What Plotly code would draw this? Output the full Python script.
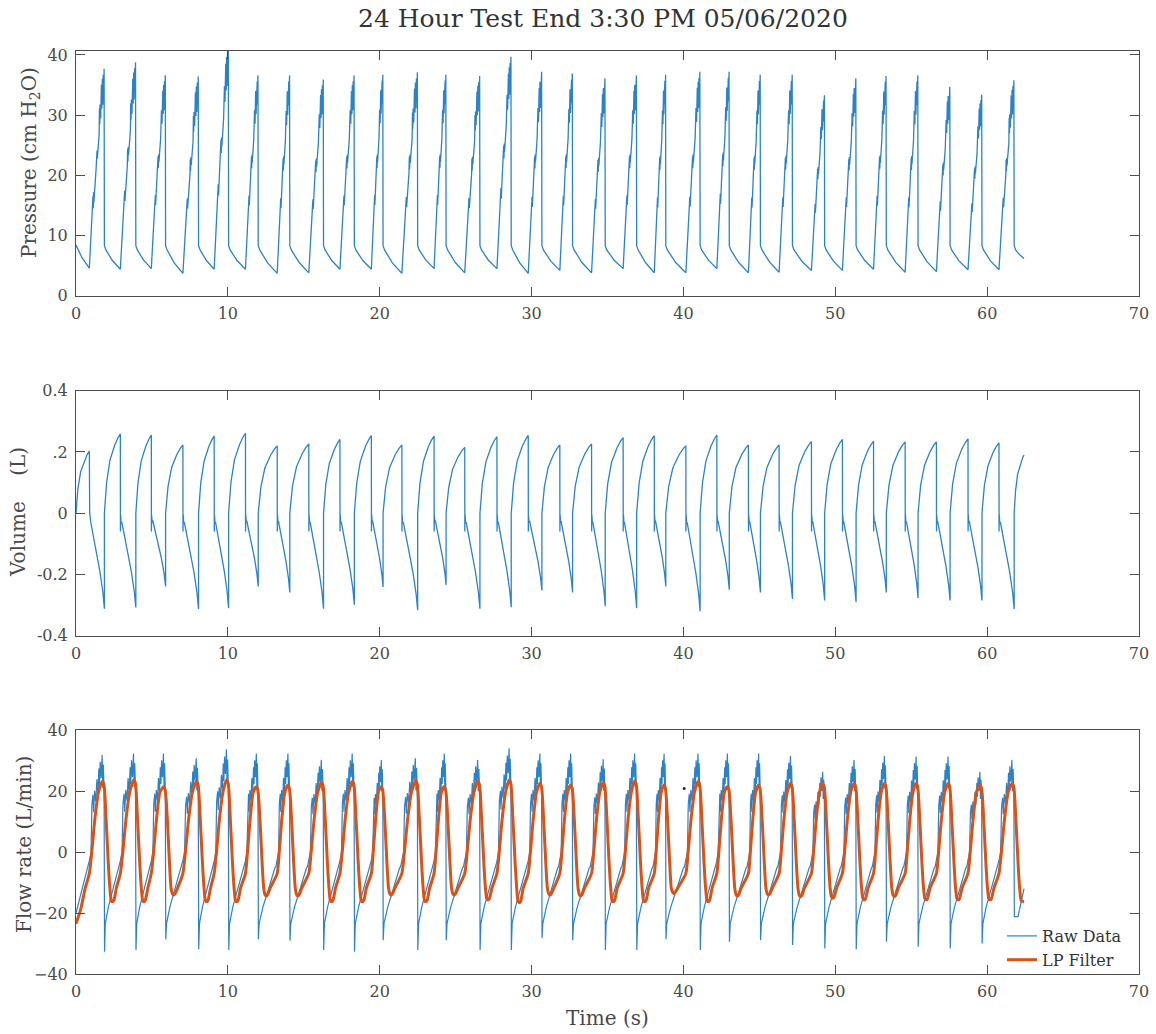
import plotly.graph_objects as go

# ---------------- data ----------------
# breath timing (s): start of inspiration (pressure trough / volume max) and pressure drop (peak)
T_TROUGH = [0.88, 2.92, 4.96, 7.04, 9.10, 11.16, 13.25, 15.33, 17.38, 19.45,
            21.46, 23.58, 25.60, 27.72, 29.78, 31.86, 33.95, 36.03, 38.08, 40.16,
            42.20, 44.28, 46.30, 48.43, 50.47, 52.52, 54.60, 56.66, 58.74, 60.78]
T_PEAK = [1.87, 3.94, 5.90, 8.07, 10.05, 12.00, 14.08, 16.30, 18.33, 20.22,
          22.50, 24.37, 26.60, 28.66, 30.68, 32.70, 34.85, 36.92, 38.84, 41.10,
          43.02, 45.07, 47.18, 49.30, 51.37, 53.36, 55.45, 57.56, 59.66, 61.78]
T_END = 62.43

# pressure (cm H2O)
P_START = 8.4
P_TROUGH = [4.6, 4.4, 4.5, 3.7, 4.4, 4.4, 3.7, 3.8, 4.4, 4.4,
            3.7, 4.5, 3.8, 4.5, 3.7, 4.2, 3.8, 4.5, 3.8, 3.8,
            4.5, 3.8, 3.9, 4.2, 4.2, 4.4, 3.9, 4.0, 4.3, 4.3]
P_PEAK = [37.7, 38.8, 36.6, 36.4, 41.5, 36.6, 36.6, 35.9, 36.6, 36.7,
          37.1, 36.7, 36.5, 39.7, 37.2, 36.9, 36.1, 36.6, 36.7, 37.2,
          37.2, 36.7, 36.7, 33.3, 36.1, 36.5, 36.6, 34.7, 33.4, 35.8]
P_AFTER_DROP = 8.3
P_SETTLE = 7.6
P_END = 6.2
# pressure rise shape read from the first breath (fraction of time, fraction of trough->peak)
P_RISE_U = [0.0, 0.22, 0.24, 0.26, 0.28, 0.30, 0.45, 0.47, 0.49, 0.51, 0.53, 0.65, 0.67,
            0.69, 0.71, 0.75, 0.80, 0.83, 0.86, 0.89, 0.92, 0.95, 0.98]
P_RISE_F = [0.0, 0.30, 0.36, 0.30, 0.38, 0.33, 0.50, 0.58, 0.52, 0.59, 0.55, 0.67, 0.80,
            0.72, 0.82, 0.75, 0.92, 0.80, 0.95, 0.82, 0.97, 0.85, 1.0]
P_FALL_U = [0.0, 0.45, 1.0]
P_FALL_F = [0.0, 0.55, 1.0]

# volume (L)
V_MAX = [0.203, 0.259, 0.255, 0.223, 0.252, 0.261, 0.220, 0.226, 0.241, 0.253,
         0.223, 0.252, 0.215, 0.250, 0.254, 0.223, 0.226, 0.247, 0.253, 0.220,
         0.255, 0.223, 0.223, 0.234, 0.241, 0.235, 0.233, 0.233, 0.243, 0.230]
V_MIN = [-0.312, -0.308, -0.239, -0.313, -0.310, -0.239, -0.259, -0.312, -0.299, -0.241,
         -0.317, -0.234, -0.312, -0.307, -0.252, -0.259, -0.304, -0.310, -0.239, -0.320,
         -0.250, -0.259, -0.280, -0.285, -0.290, -0.259, -0.277, -0.285, -0.285, -0.313]
V_END = 0.19
V_DIP = -0.06
V_RISE_U = [0.0, 0.14, 0.35, 0.65, 0.85, 1.0]
V_RISE_F = [0.0, 0.39, 0.67, 0.86, 0.95, 1.0]
V_FALL_U = [0.10, 0.35, 0.70, 0.90, 1.0]
V_FALL_F = [0.10, 0.31, 0.61, 0.83, 1.0]

# flow rate (L/min), raw data
F_MAX = [31.8, 32.3, 32.3, 30.7, 33.7, 32.3, 32.3, 30.2, 32.3, 30.2,
         30.7, 32.3, 30.2, 34.0, 32.3, 32.3, 30.4, 32.3, 32.3, 32.3,
         32.3, 32.3, 31.5, 26.3, 30.2, 31.5, 31.3, 31.3, 26.3, 30.2]
F_MIN = [-32.7, -32.1, -28.6, -31.9, -32.1, -28.6, -29.1, -32.1, -32.7, -28.9,
         -32.1, -28.9, -32.1, -32.1, -28.3, -28.9, -32.1, -32.1, -28.6, -32.1,
         -29.4, -28.9, -30.5, -31.6, -31.9, -29.4, -31.1, -31.6, -30.0, -21.2]
F_PRE_T = [0.0, 0.45, 0.75]
F_PRE_V = [-20.0, -11.0, -6.0]
# raw inspiration shape read from the first breath (fraction of time, fraction of peak)
F_INSP_U = [0.0, 0.11, 0.17, 0.24, 0.28, 0.35, 0.43, 0.50, 0.57, 0.63, 0.67, 0.72, 0.78,
            0.85, 0.89, 0.93, 0.98]
F_INSP_F = [-0.09, 0.0, 0.49, 0.59, 0.41, 0.63, 0.52, 0.75, 0.59, 0.86, 0.69, 0.93, 0.76,
            1.0, 0.66, 0.90, 0.63]
F_REBOUND = -23.5
F_EXP_U = [0.25, 0.45, 0.60, 0.75, 0.88, 0.93]
F_EXP_V = [-18.0, -14.0, -11.0, -7.5, -5.2, -4.8]
F_TAIL_T = [62.03, 62.43]
F_TAIL_V = [-21.2, -12.0]
DOT_T = [40.05]
DOT_V = [20.8]

# flow rate, LP filter
LP_MAX = [23.1, 23.6, 21.4, 23.1, 23.6, 21.4, 21.9, 22.7, 23.1, 21.4,
          23.3, 21.4, 23.1, 23.6, 22.5, 21.9, 22.7, 23.3, 21.9, 23.1,
          21.4, 21.9, 22.5, 22.5, 22.5, 22.5, 22.5, 22.5, 22.0, 22.5]
LP_MIN = [-16.3, -16.3, -14.1, -16.3, -16.3, -14.4, -14.4, -16.3, -16.3, -14.1,
          -16.3, -14.1, -15.7, -16.6, -14.1, -14.4, -16.3, -16.3, -13.6, -16.3,
          -14.4, -14.1, -14.6, -15.2, -15.7, -14.6, -15.7, -15.7, -15.7, -16.3]
LP_PRE_T = [0.0, 0.3, 0.6]
LP_PRE_V = [-23.5, -19.0, -12.0]
LP_INSP_U = [0.0, 0.16, 0.37, 0.60]
LP_INSP_V = [-7.0, 0.0, 11.0, 19.5]
LP_EXP_DT = [0.10, 0.25, 0.36]
LP_EXP_V = [12.0, -3.0, -11.8]
LP_END = -16.3

X_TICKS = [0, 10, 20, 30, 40, 50, 60, 70]
P_TICKS = [0, 10, 20, 30, 40]
V_TICKS = [-0.4, -0.2, 0, 0.2, 0.4]
V_TICKTEXT = ["-0.4", "-0.2", "0", ".2", "0.4"]
F_TICKS = [-40, -20, 0, 20, 40]

# ---------------- build the traces ----------------
n = len(T_TROUGH)

# pressure
pt, pv = [], []
prev_t, prev_v = 0.0, P_START
for k in range(n):
    tt, tp = T_TROUGH[k], T_PEAK[k]
    lo, hi = P_TROUGH[k], P_PEAK[k]
    for u, f in zip(P_FALL_U, P_FALL_F):
        pt.append(prev_t + u * (tt - prev_t)); pv.append(prev_v + f * (lo - prev_v))
    for u, f in zip(P_RISE_U[1:], P_RISE_F[1:]):
        pt.append(tt + u * (tp - tt)); pv.append(lo + f * (hi - lo))
    pt.append(tp); pv.append(P_AFTER_DROP)
    prev_t, prev_v = tp + 0.1, P_SETTLE
for u, f in zip(P_FALL_U, P_FALL_F):
    pt.append(prev_t + u * (T_END - prev_t)); pv.append(prev_v + f * (P_END - prev_v))

# volume
vt, vv = [], []
prev_t = 0.0
for k in range(n):
    tt, tp = T_TROUGH[k], T_PEAK[k]
    for u, f in zip(V_RISE_U, V_RISE_F):
        vt.append(prev_t + u * (tt - prev_t)); vv.append(f * V_MAX[k])
    if k == 0:
        vt.append(tt + 0.02); vv.append(0.0)
    else:
        vt += [tt + 0.005, tt + 0.02, tt + 0.05]; vv += [V_DIP, -0.005, -0.03]
    for u, f in zip(V_FALL_U, V_FALL_F):
        vt.append(tt + u * (tp - tt)); vv.append(f * V_MIN[k])
    prev_t = tp
for u, f in zip(V_RISE_U, V_RISE_F):
    vt.append(prev_t + u * (T_END - prev_t)); vv.append(f * V_END)

# flow raw
ft, fv = list(F_PRE_T), list(F_PRE_V)
for k in range(n):
    tt, tp = T_TROUGH[k], T_PEAK[k]
    for u, f in zip(F_INSP_U, F_INSP_F):
        ft.append(tt + u * (tp - tt)); fv.append(f * F_MAX[k])
    ft.append(tp + 0.01); fv.append(F_MIN[k])
    if k < n - 1:
        ft.append(tp + 0.06); fv.append(F_REBOUND)
        tn = T_TROUGH[k + 1]
        for u, v in zip(F_EXP_U, F_EXP_V):
            ft.append(tp + u * (tn - tp)); fv.append(v)
    else:
        ft += F_TAIL_T; fv += F_TAIL_V

# flow LP filter
lt, lv = list(LP_PRE_T), list(LP_PRE_V)
for k in range(n):
    tt, tp = T_TROUGH[k], T_PEAK[k]
    for u, v in zip(LP_INSP_U, LP_INSP_V):
        lt.append(tt + u * (tp - tt)); lv.append(v)
    lt += [tp - 0.14, tp - 0.03]; lv += [LP_MAX[k], LP_MAX[k] - 1.0]
    for dt, v in zip(LP_EXP_DT, LP_EXP_V):
        lt.append(tp + dt); lv.append(v)
    if k < n - 1:
        lt += [tp + 0.45, tp + 0.53, tp + 0.62, tp + 0.79]
        lv += [LP_MIN[k] + 0.4, LP_MIN[k], LP_MIN[k] + 0.4, -11.8]
    else:
        lt += [tp + 0.47, T_END]; lv += [LP_MIN[k] + 0.3, LP_END]

BLUE = '#2b82c9'
ORANGE = '#d95319'
FONT = 'DejaVu Serif'
TXT = '#4a4a4a'
AX = '#4d4d4d'

fig = go.Figure()
fig.add_trace(go.Scatter(x=pt, y=pv, mode='lines', line=dict(color=BLUE, width=1.3),
                         xaxis='x', yaxis='y', showlegend=False))
fig.add_trace(go.Scatter(x=vt, y=vv, mode='lines', line=dict(color=BLUE, width=1.3),
                         xaxis='x2', yaxis='y2', showlegend=False))
fig.add_trace(go.Scatter(x=ft, y=fv, mode='lines', line=dict(color=BLUE, width=1.2),
                         xaxis='x3', yaxis='y3', name='Raw Data'))
fig.add_trace(go.Scatter(x=lt, y=lv, mode='lines',
                         line=dict(color=ORANGE, width=3, shape='spline', smoothing=0.6),
                         xaxis='x3', yaxis='y3', name='LP Filter'))
fig.add_trace(go.Scatter(x=DOT_T, y=DOT_V, mode='markers', marker=dict(color='#1a237e', size=3),
                         xaxis='x3', yaxis='y3', showlegend=False))

XDOM = [76 / 1156, 1139 / 1156]
common = dict(showline=True, linecolor=AX, linewidth=1, mirror='ticks', ticks='inside', ticklen=9,
              tickcolor=AX, tickwidth=1, showgrid=False, zeroline=False, automargin=False,
              tickfont=dict(family=FONT, size=16, color=TXT))
xcommon = dict(common, domain=XDOM, range=[0, 70], tickvals=X_TICKS, ticklabelstandoff=3)
ycommon = dict(common, ticklabelstandoff=4)

fig.update_layout(
    template='none',
    width=1156, height=1034,
    margin=dict(l=0, r=0, t=0, b=0, autoexpand=False),
    paper_bgcolor='white', plot_bgcolor='white',
    xaxis=dict(xcommon, anchor='y'),
    xaxis2=dict(xcommon, anchor='y2'),
    xaxis3=dict(xcommon, anchor='y3'),
    yaxis=dict(ycommon, domain=[1 - 295.7 / 1034, 1 - 50.7 / 1034], range=[0, 40.7], tickvals=P_TICKS, anchor='x'),
    yaxis2=dict(ycommon, domain=[1 - 635.7 / 1034, 1 - 390.7 / 1034], range=[-0.4, 0.4],
                tickvals=V_TICKS, ticktext=V_TICKTEXT, anchor='x2'),
    yaxis3=dict(ycommon, domain=[1 - 974 / 1034, 1 - 730 / 1034], range=[-40, 40], tickvals=F_TICKS, anchor='x3'),
    legend=dict(x=1002 / 1156, y=1 - 919 / 1034, xanchor='left', yanchor='top',
                bgcolor='rgba(255,255,255,0)', borderwidth=0, tracegroupgap=0,
                font=dict(family=FONT, size=16, color='#333333')),
    annotations=[
        dict(text='24 Hour Test End 3:30 PM 05/06/2020', xref='paper', yref='paper',
             x=602.5 / 1156, y=1 - 18 / 1034, xanchor='center', yanchor='middle', showarrow=False,
             font=dict(family=FONT, size=25, color='#333333')),
        dict(text='Pressure (cm H<sub>2</sub>O)', xref='paper', yref='paper', textangle=-90,
             x=30 / 1156, y=1 - 163 / 1034, xanchor='center', yanchor='middle', showarrow=False,
             font=dict(family=FONT, size=20, color=TXT)),
        dict(text='Volume\u00a0\u00a0\u00a0\u00a0(L)', xref='paper', yref='paper', textangle=-90,
             x=18 / 1156, y=1 - 512 / 1034, xanchor='center', yanchor='middle', showarrow=False,
             font=dict(family=FONT, size=20, color=TXT)),
        dict(text='Flow rate (L/min)', xref='paper', yref='paper', textangle=-90,
             x=24 / 1156, y=1 - 845 / 1034, xanchor='center', yanchor='middle', showarrow=False,
             font=dict(family=FONT, size=20, color=TXT)),
        dict(text='Time (s)', xref='paper', yref='paper',
             x=607 / 1156, y=1 - 1018 / 1034, xanchor='center', yanchor='middle', showarrow=False,
             font=dict(family=FONT, size=20, color=TXT)),
    ],
)

fig.write_html('out.html')
